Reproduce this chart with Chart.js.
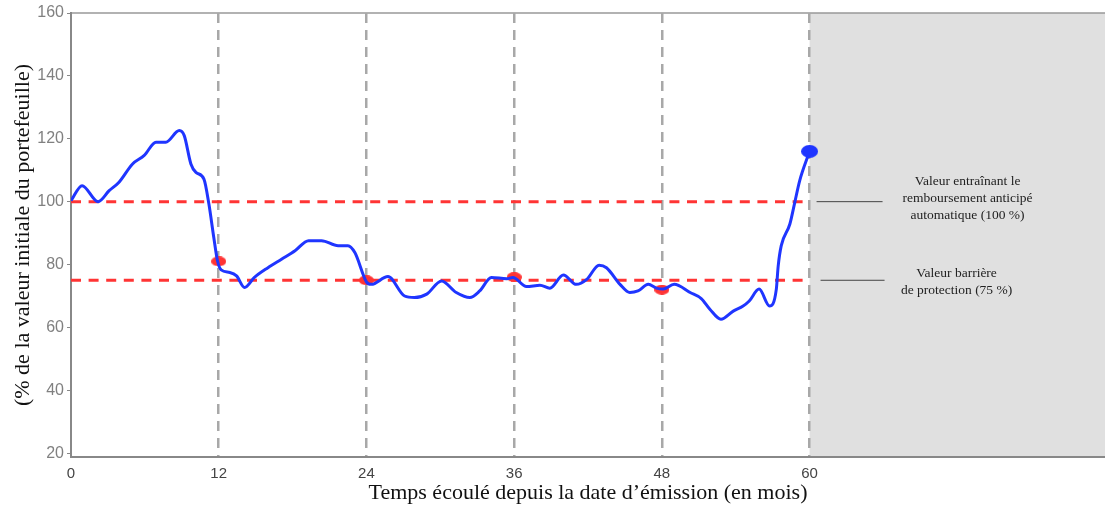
<!DOCTYPE html>
<html lang="fr">
<head>
    <meta charset="UTF-8">
    <title>Valeur du portefeuille</title>
    <script src="https://cdn.jsdelivr.net/npm/chart.js"></script>
    <style>
        body { margin: 0; background: #fff; }
    </style>
</head>
<body>
    <canvas id="chart" width="1105" height="506"></canvas>
    <script>
        // Courbe du portefeuille (mois, % de la valeur initiale)
        const months = [0, 0.9, 2.2, 3.1, 3.9, 5.0, 5.95, 6.9, 7.7, 8.8, 9.2, 9.74, 10.15, 10.8, 11.2, 11.6, 11.9, 12.2,
            12.9, 13.45, 14.1, 14.9, 16.0, 17.1, 18.2, 19.3, 20.35, 21.7, 22.5, 23.06, 24.0, 24.4, 25.75, 27.1, 27.9,
            28.9, 30.1, 31.3, 32.4, 33.2, 34.15, 35.4, 35.9, 37.0, 38.1, 38.9, 40.0, 41.05, 41.9, 42.9, 43.5, 44.6,
            45.4, 46.06, 46.9, 47.55, 48.1, 49.0, 50.3, 51.2, 51.9, 52.8, 53.8, 54.6, 55.1, 55.9, 56.75, 57.3, 57.45,
            57.7, 58.4, 58.8, 59.2, 60];
        const values = [100.3, 105.1, 100, 103.5, 106.2, 112, 114.7, 118.9, 118.9, 122.6, 121, 112, 109.3, 107.2, 99.3, 88.6, 81.2, 78.3,
            77.5, 76.4, 72.7, 75.9, 79, 81.7, 84.4, 87.6, 87.6, 86, 86, 83.8, 74.5, 73.7, 76.2, 70, 69.5,
            70.6, 74.8, 71.1, 69.5, 71.6, 75.9, 75.5, 75.9, 73, 73.4, 72.5, 76.7, 73.7, 75.3, 79.8, 79, 73.7,
            71.1, 71.6, 73.7, 72.5, 72.2, 73.7, 71.1, 69.2, 65.8, 62.6, 65.2, 66.8, 68.4, 72.2, 66.8, 72.2, 79.5,
            86, 92.9, 99.8, 106.7, 116];

        // dates d'observation annuelles
        const obsMonths = [12, 24, 36, 48];
        const obsValues = [81, 75, 76, 72];
        const finalMonth = 60;
        const finalValue = 116;

        const autocallLevel = 100;
        const barrierLevel = 75;

        const xTicks = [0, 12, 24, 36, 48, 60];
        const yTicks = [20, 40, 60, 80, 100, 120, 140, 160];

        const BLUE = '#1f35ff';
        const RED = '#ff3434';

        const ellipse = (w, h, color) => {
            const c = document.createElement('canvas');
            c.width = w; c.height = h;
            const g = c.getContext('2d');
            g.fillStyle = color;
            g.beginPath();
            g.ellipse(w / 2, h / 2, w / 2, h / 2, 0, 0, Math.PI * 2);
            g.fill();
            return c;
        };

        // fond gris après 60 mois + cadre haut
        const background = {
            id: 'background',
            beforeDraw(chart) {
                const { ctx, chartArea: a, scales: { x } } = chart;
                ctx.save();
                ctx.fillStyle = '#e0e0e0';
                const x60 = x.getPixelForValue(finalMonth);
                ctx.fillRect(x60, a.top, a.right - x60, a.bottom - a.top);
                ctx.strokeStyle = '#999';
                ctx.lineWidth = 1.5;
                ctx.beginPath();
                ctx.moveTo(a.left, a.top);
                ctx.lineTo(a.right, a.top);
                ctx.stroke();
                ctx.restore();
            }
        };

        // légendes à droite
        const notes = {
            id: 'notes',
            afterDraw(chart) {
                const { ctx, scales: { x, y } } = chart;
                const x60 = x.getPixelForValue(finalMonth);
                ctx.save();
                ctx.strokeStyle = '#444';
                ctx.lineWidth = 1;
                const yA = y.getPixelForValue(autocallLevel);
                const yB = y.getPixelForValue(barrierLevel);
                ctx.beginPath();
                ctx.moveTo(x60 + 7, yA); ctx.lineTo(x60 + 73, yA);
                ctx.moveTo(x60 + 11, yB); ctx.lineTo(x60 + 75, yB);
                ctx.stroke();
                ctx.fillStyle = '#222';
                ctx.font = '13.5px "Liberation Serif", serif';
                ctx.textAlign = 'center';
                ctx.textBaseline = 'middle';
                ctx.fillText('Valeur entraînant le', x60 + 158, yA - 20);
                ctx.fillText('remboursement anticipé', x60 + 158, yA - 3);
                ctx.fillText('automatique (100 %)', x60 + 158, yA + 14);
                ctx.fillText('Valeur barrière', x60 + 147, yB - 7);
                ctx.fillText('de protection (75 %)', x60 + 147, yB + 10);
                ctx.restore();
            }
        };

        const curve = months.map((m, i) => ({ x: m, y: values[i] }));
        const obs = obsMonths.map((m, i) => ({ x: m, y: obsValues[i] }));

        new Chart(document.getElementById('chart'), {
            type: 'line',
            data: {
                datasets: [
                    {
                        data: [{ x: finalMonth, y: finalValue }],
                        showLine: false,
                        pointStyle: ellipse(17, 13, BLUE),
                        order: 0,
                    },
                    {
                        data: curve,
                        borderColor: BLUE,
                        borderWidth: 3,
                        pointRadius: 0,
                        cubicInterpolationMode: 'monotone',
                        order: 1,
                    },
                    {
                        data: obs,
                        showLine: false,
                        pointStyle: ellipse(15, 10, RED),
                        order: 2,
                    },
                    {
                        data: [{ x: 0, y: autocallLevel }, { x: finalMonth, y: autocallLevel }],
                        borderColor: RED,
                        borderWidth: 3,
                        borderDash: [10, 7.6],
                        pointRadius: 0,
                        order: 3,
                    },
                    {
                        data: [{ x: 0, y: barrierLevel }, { x: finalMonth, y: barrierLevel }],
                        borderColor: RED,
                        borderWidth: 3,
                        borderDash: [10, 7.6],
                        pointRadius: 0,
                        order: 3,
                    },
                ]
            },
            options: {
                responsive: false,
                animation: false,
                layout: { autoPadding: false, padding: { top: 13, right: 0, left: 0, bottom: 0 } },
                plugins: { legend: { display: false }, tooltip: { enabled: false } },
                scales: {
                    x: {
                        type: 'linear',
                        min: 0,
                        max: 84,
                        afterFit: (s) => { s.height = 49; s.paddingRight = 0; s.paddingLeft = 0; },
                        afterBuildTicks: (s) => { s.ticks = [0, 12, 24, 36, 48, 60, 72, 84].map(v => ({ value: v })); },
                        ticks: {
                            callback: (v) => xTicks.includes(v) ? v : '',
                            color: '#444',
                            font: { family: 'Liberation Sans', size: 15 },
                            padding: 8,
                            maxRotation: 0,
                        },
                        grid: {
                            color: (c) => (c.tick && c.tick.value >= 12 && c.tick.value <= 60) ? '#a8a8a8' : 'rgba(0,0,0,0)',
                            lineWidth: 2.5,
                            drawTicks: false,
                        },
                        border: { color: '#888', width: 2, dash: [10, 7] },
                        title: {
                            display: true,
                            text: 'Temps écoulé depuis la date d’émission (en mois)',
                            color: '#111',
                            font: { family: 'Liberation Serif', size: 22 },
                            padding: { top: 0, bottom: 0 },
                        },
                    },
                    y: {
                        min: 18.8,
                        max: 160,
                        afterFit: (s) => { s.width = 71; },
                        afterBuildTicks: (s) => { s.ticks = yTicks.map(v => ({ value: v })); },
                        ticks: {
                            color: '#808080',
                            font: { family: 'Liberation Sans', size: 16 },
                            padding: 3,
                        },
                        grid: {
                            drawOnChartArea: false,
                            color: '#888',
                            tickLength: 4,
                        },
                        border: { color: '#888', width: 2 },
                        title: {
                            display: true,
                            text: '(% de la valeur initiale du portefeuille)',
                            color: '#111',
                            font: { family: 'Liberation Serif', size: 22 },
                            padding: { top: 10, bottom: 0 },
                        },
                    },
                },
            },
            plugins: [background, notes],
        });
    </script>
</body>
</html>
